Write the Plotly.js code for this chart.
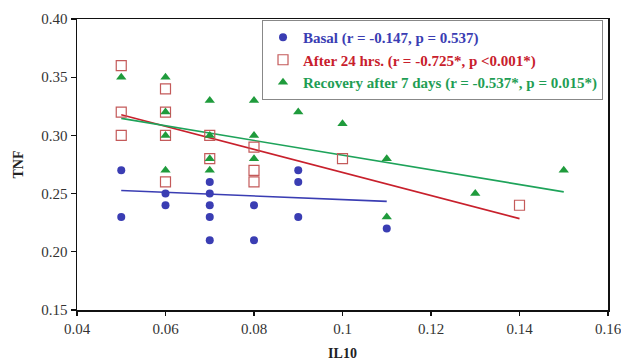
<!DOCTYPE html>
<html>
<head>
<meta charset="utf-8">
<script src="https://cdn.plot.ly/plotly-3.0.1.min.js"></script>
<style>html,body{margin:0;padding:0;background:#fff;}#chart{width:621px;height:363px;}</style>
</head>
<body>
<div id="chart"></div>
<script>
// Data
var basalX = [0.05,0.05,0.06,0.06,0.07,0.07,0.07,0.07,0.07,0.08,0.08,0.09,0.09,0.09,0.11];
var basalY = [0.27,0.23,0.25,0.24,0.26,0.25,0.24,0.23,0.21,0.24,0.21,0.27,0.26,0.23,0.22];
var after24X = [0.05,0.05,0.05,0.06,0.06,0.06,0.06,0.07,0.07,0.08,0.08,0.08,0.10,0.14];
var after24Y = [0.36,0.32,0.30,0.34,0.32,0.30,0.26,0.30,0.28,0.29,0.27,0.26,0.28,0.24];
var recovX = [0.05,0.06,0.06,0.06,0.06,0.07,0.07,0.07,0.07,0.08,0.08,0.08,0.09,0.10,0.11,0.11,0.13,0.15];
var recovY = [0.35,0.35,0.32,0.30,0.27,0.33,0.30,0.28,0.27,0.33,0.30,0.28,0.32,0.31,0.28,0.23,0.25,0.27];

// Fitted trend lines (end values)
var basalFitX = [0.05, 0.11];
var basalFitY = [0.2527, 0.2433];
var after24FitX = [0.05, 0.14];
var after24FitY = [0.3177, 0.2285];
var recovFitX = [0.05, 0.15];
var recovFitY = [0.3146, 0.2515];

var seriesNames = [
  'Basal (r = -0.147, p = 0.537)',
  'After 24 hrs. (r = -0.725*, p <0.001*)',
  'Recovery after 7 days (r = -0.537*, p = 0.015*)'
];
var axisTitles = {x: 'IL10', y: 'TNF'};

var cBlue = '#3a3db3', cRed = '#c8202c', cRedSq = '#c45a5a', cGreen = '#1f9b3c', cGreenLine = '#1ea35a', cGreenText = '#1f9e55';
var serif = '"Liberation Serif", "Times New Roman", serif';

var traces = [
  {x: basalFitX, y: basalFitY, mode: 'lines', line: {color: cBlue, width: 1.6}, showlegend: false, hoverinfo: 'skip'},
  {x: after24FitX, y: after24FitY, mode: 'lines', line: {color: cRed, width: 1.6}, showlegend: false, hoverinfo: 'skip'},
  {x: recovFitX, y: recovFitY, mode: 'lines', line: {color: cGreenLine, width: 1.6}, showlegend: false, hoverinfo: 'skip'},
  {x: basalX, y: basalY, mode: 'markers', type: 'scatter',
   name: '<span style="color:' + cBlue + '">' + seriesNames[0] + '</span>',
   marker: {symbol: 'circle', size: 8, color: cBlue}},
  {x: after24X, y: after24Y, mode: 'markers', type: 'scatter',
   name: '<span style="color:' + cRed + '">' + seriesNames[1] + '</span>',
   marker: {symbol: 'square-open', size: 10, color: cRedSq, line: {width: 1.2, color: cRedSq}}},
  {x: recovX, y: recovY, mode: 'markers', type: 'scatter',
   name: '<span style="color:' + cGreenText + '">' + seriesNames[2] + '</span>',
   marker: {symbol: 'triangle-up', size: 9, color: cGreen}}
];

var layout = {
  width: 621, height: 363,
  margin: {l: 77, r: 13, t: 19, b: 53},
  paper_bgcolor: '#ffffff', plot_bgcolor: '#ffffff',
  font: {family: serif, size: 15, color: '#333'},
  xaxis: {
    range: [0.04, 0.16], dtick: 0.02, tick0: 0.04,
    showgrid: false, zeroline: false,
    showline: true, linecolor: '#111', linewidth: 1.5, mirror: true,
    ticks: 'outside', ticklen: 4, tickcolor: '#111', tickwidth: 1.2,
    ticklabeloverflow: 'allow',
    tickfont: {family: serif, size: 15, color: '#333'},
    title: {text: axisTitles.x, font: {family: serif, size: 14, color: '#222', weight: 'bold'}, standoff: 12}
  },
  yaxis: {
    range: [0.15, 0.40], dtick: 0.05, tick0: 0.15, tickformat: '.2f',
    showgrid: false, zeroline: false,
    showline: true, linecolor: '#111', linewidth: 1.5, mirror: true,
    ticks: 'outside', ticklen: 5, tickcolor: '#111', tickwidth: 1.2,
    tickfont: {family: serif, size: 15, color: '#333'},
    title: {text: axisTitles.y, font: {family: serif, size: 14, color: '#222', weight: 'bold'}, standoff: 14}
  },
  legend: {
    x: 0.9906, xanchor: 'right', y: 0.9966, yanchor: 'top',
    bgcolor: '#ffffff', bordercolor: '#888', borderwidth: 1,
    font: {family: serif, size: 15, weight: 'bold'},
    itemwidth: 30, tracegroupgap: 0
  },
  showlegend: true
};

Plotly.newPlot('chart', traces, layout, {staticPlot: true, displayModeBar: false});
</script>
</body>
</html>
